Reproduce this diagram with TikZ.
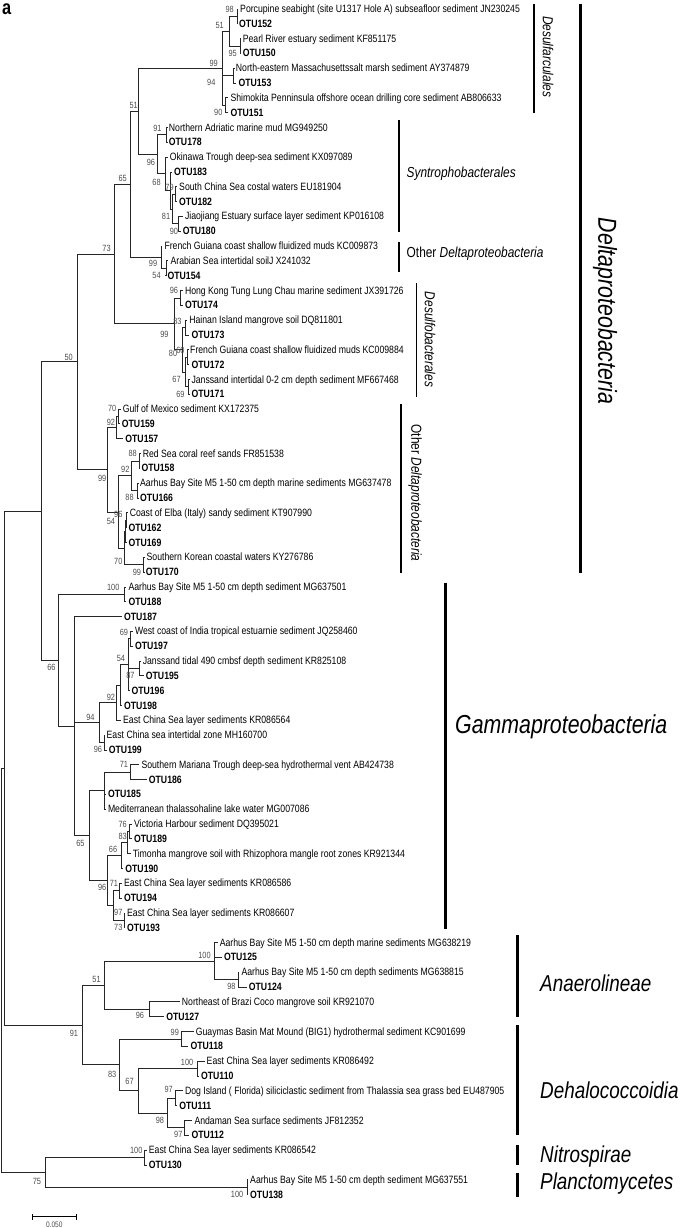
\documentclass[tikz,border=0pt]{standalone}
\usepackage{fontspec}
\setmainfont{Liberation Sans}[FakeStretch=0.82]
\newcommand\nd[3]{\coordinate (#1) at (#2,{8.9+14.82*(#3)});}
\newcommand\lf[4]{\node[leaf] (#1) at ({#2-2},{8.9+14.82*(#3)}) {#4};}
\newcommand\lo[4]{\node[leaf,otu] (#1) at ({#2-2},{8.9+14.82*(#3)}) {#4};}
\newcommand\br[2]{\draw[brl] (#1) |- (#2);}
\newcommand\bl[2]{\draw[brl] (#1) |- (#2.west);}
\newcommand\bsl[4]{\node[bs] (#1) at (#2,#3) {#4};}
\begin{document}
\begin{tikzpicture}[x=1pt,y=-1pt,
  brl/.style={line width=0.75pt,draw=black!85},
  leaf/.style={anchor=west,inner xsep=2pt,inner ysep=0pt,text height=0.72em,text depth=0pt,font=\fontsize{10.6}{12}\selectfont},
  otu/.style={font=\fontsize{10.6}{12}\selectfont\bfseries},
  bs/.style={anchor=east,inner sep=0pt,text height=0.72em,text depth=0pt,font=\fontsize{9}{10}\selectfont,text=black!70},
  bar/.style={line width=1.2pt},
  tbar/.style={line width=3pt},
  clade/.style={font=\fontsize{14.5}{16}\selectfont,inner sep=0pt},
  big/.style={font=\fontsize{26}{28}\selectfont\itshape,inner sep=0pt},
  mid/.style={font=\fontsize{23}{25}\selectfont\itshape,inner sep=0pt}]
\useasboundingbox (0,0) rectangle (685,1228);

\node[font=\fontsize{20}{20}\selectfont\bfseries,anchor=north west,inner sep=0pt] (pa) at (2,4) {a};

% leaves
\lf{L0}{240}{0}{Porcupine seabight (site U1317 Hole A) subseafloor sediment JN230245}
\lo{L1}{239}{1}{OTU152}
\lf{L2}{242.6}{2}{Pearl River estuary sediment KF851175}
\lo{L3}{242.6}{3}{OTU150}
\lf{L4}{235.7}{4}{North-eastern Massachusettssalt marsh sediment AY374879}
\lo{L5}{238.3}{5}{OTU153}
\lf{L6}{230.4}{6}{Shimokita Penninsula offshore ocean drilling core sediment AB806633}
\lo{L7}{230.4}{7}{OTU151}
\lf{L8}{168.7}{8}{Northern Adriatic marine mud MG949250}
\lo{L9}{168.7}{9}{OTU178}
\lf{L10}{169.6}{10}{Okinawa Trough deep-sea sediment KX097089}
\lo{L11}{174}{11}{OTU183}
\lf{L12}{179}{12}{South China Sea costal waters EU181904}
\lo{L13}{179}{13}{OTU182}
\lf{L14}{184.8}{14}{Jiaojiang Estuary surface layer sediment KP016108}
\lo{L15}{182.6}{15}{OTU180}
\lf{L16}{164.3}{16}{French Guiana coast shallow fluidized muds KC009873}
\lf{L17}{170.4}{17}{Arabian Sea intertidal soilJ X241032}
\lo{L18}{167.4}{18}{OTU154}
\lf{L19}{184.8}{19}{Hong Kong Tung Lung Chau marine sediment JX391726}
\lo{L20}{184.8}{20}{OTU174}
\lf{L21}{189.1}{21}{Hainan Island mangrove soil DQ811801}
\lo{L22}{191.3}{22}{OTU173}
\lf{L23}{190}{23}{French Guiana coast shallow fluidized muds KC009884}
\lo{L24}{191.3}{24}{OTU172}
\lf{L25}{191.3}{25}{Janssand intertidal 0-2 cm depth sediment MF667468}
\lo{L26}{191.3}{26}{OTU171}
\lf{L27}{122.6}{27}{Gulf of Mexico sediment KX172375}
\lo{L28}{121.7}{28}{OTU159}
\lo{L29}{125.2}{29}{OTU157}
\lf{L30}{142.6}{30}{Red Sea coral reef sands FR851538}
\lo{L31}{141.3}{31}{OTU158}
\lf{L32}{140}{32}{Aarhus Bay Site M5 1-50 cm depth marine sediments MG637478}
\lo{L33}{140}{33}{OTU166}
\lf{L34}{129.6}{34}{Coast of Elba (Italy) sandy sediment KT907990}
\lo{L35}{128.3}{35}{OTU162}
\lo{L36}{128.3}{36}{OTU169}
\lf{L37}{146.5}{37}{Southern Korean coastal waters KY276786}
\lo{L38}{145.7}{38}{OTU170}
\lf{L39}{128.3}{39}{Aarhus Bay Site M5 1-50 cm depth sediment MG637501}
\lo{L40}{128.3}{40}{OTU188}
\lo{L41}{123.9}{41}{OTU187}
\lf{L42}{134.8}{42}{West coast of India tropical estuarnie sediment JQ258460}
\lo{L43}{134.8}{43}{OTU197}
\lf{L44}{142.6}{44}{Janssand tidal 490 cmbsf depth sediment KR825108}
\lo{L45}{145.7}{45}{OTU195}
\lo{L46}{131.3}{46}{OTU196}
\lo{L47}{123.9}{47}{OTU198}
\lf{L48}{123}{48}{East China Sea layer sediments KR086564}
\lf{L49}{106.5}{49}{East China sea intertidal zone MH160700}
\lo{L50}{108.7}{50}{OTU199}
\lf{L51}{141.3}{51}{Southern Mariana Trough deep-sea hydrothermal vent AB424738}
\lo{L52}{148.7}{52}{OTU186}
\lo{L53}{107.8}{53}{OTU185}
\lf{L54}{107.8}{54}{Mediterranean thalassohaline lake water MG007086}
\lf{L55}{133.9}{55}{Victoria Harbour sediment DQ395021}
\lo{L56}{133.9}{56}{OTU189}
\lf{L57}{132.6}{57}{Timonha mangrove soil with Rhizophora mangle root zones KR921344}
\lo{L58}{125.2}{58}{OTU190}
\lf{L59}{123.9}{59}{East China Sea layer sediments KR086586}
\lo{L60}{123.9}{60}{OTU194}
\lf{L61}{127}{61}{East China Sea layer sediments KR086607}
\lo{L62}{127}{62}{OTU193}
\lf{L63}{219.6}{63}{Aarhus Bay Site M5 1-50 cm depth marine sediments MG638219}
\lo{L64}{223.9}{64}{OTU125}
\lf{L65}{241.3}{65}{Aarhus Bay Site M5 1-50 cm depth sediments MG638815}
\lo{L66}{248.7}{66}{OTU124}
\lf{L67}{181.7}{67}{Northeast of Brazi Coco mangrove soil KR921070}
\lo{L68}{166.1}{68}{OTU127}
\lf{L69}{195.7}{69}{Guaymas Basin Mat Mound (BIG1) hydrothermal sediment KC901699}
\lo{L70}{190.4}{70}{OTU118}
\lf{L71}{206.5}{71}{East China Sea layer sediments KR086492}
\lo{L72}{200.9}{72}{OTU110}
\lf{L73}{184.8}{73}{Dog Island ( Florida) siliciclastic sediment from Thalassia sea grass bed EU487905}
\lo{L74}{179.1}{74}{OTU111}
\lf{L75}{194.3}{75}{Andaman Sea surface sediments JF812352}
\lo{L76}{191.3}{76}{OTU112}
\lf{L77}{148.7}{77}{East China Sea layer sediments KR086542}
\lo{L78}{148.7}{78}{OTU130}
\lf{L79}{250}{79}{Aarhus Bay Site M5 1-50 cm depth sediment MG637551}
\lo{L80}{250}{80}{OTU138}

% internal nodes
\nd{A1}{237}{0.5}
\nd{A2}{240}{2.5}
\nd{N51a}{229}{1.5}
\nd{N94}{233.5}{4.5}
\nd{N90}{225.5}{6.5}
\nd{N99}{222.6}{4}
\nd{N51}{138.3}{6.906}
\nd{N91s}{166.5}{8.5}
\nd{N79s}{175}{12.5}
\nd{N90s}{178}{14.5}
\nd{NYs}{172.5}{13.5}
\nd{NXs}{170.4}{12.25}
\nd{N68s}{165.2}{11.125}
\nd{N96s}{157.4}{9.8125}
\nd{N54o}{166}{17.5}
\nd{N99o}{160.9}{16.75}
\nd{N65}{130.4}{11.828}
\nd{N96d}{180.4}{19.5}
\nd{N83d}{185.5}{21.5}
\nd{N60d}{187.5}{23.5}
\nd{N69d}{188.5}{25.5}
\nd{NYd}{185}{24.5}
\nd{NXd}{182.6}{23}
\nd{NDb}{173.9}{21.25}
\nd{N73}{113.9}{16.539}
\nd{N70b}{118.8}{27.5}
\nd{N92b}{116.5}{28.25}
\nd{N88a}{139.5}{30.5}
\nd{N88b}{137.5}{32.5}
\nd{N92c}{131.7}{31.5}
\nd{NC}{126.8}{34.5}
\nd{NXc}{125.5}{35.25}
\nd{N99k}{143.5}{37.5}
\nd{NB}{124.5}{36.375}
\nd{NA}{118.3}{33.94}
\nd{N99b}{107.8}{31.09}
\nd{N50}{77.4}{23.81}
\nd{N100g}{124.5}{39.5}
\nd{N69g}{130}{42.5}
\nd{N87g}{139.1}{44.5}
\nd{N54g}{128.7}{44.25}
\nd{NXg}{120.4}{45.625}
\nd{N92g}{116.5}{46.81}
\nd{N96g}{104.3}{49.5}
\nd{N94g}{99.1}{48.16}
\nd{N71h}{130.4}{51.5}
\nd{NH}{104.3}{52.75}
\nd{N76h}{129.8}{55.5}
\nd{N83h}{127}{56.25}
\nd{N66h}{120.9}{57.125}
\nd{N71j}{119.6}{59.5}
\nd{N73j}{123.9}{61.5}
\nd{NJ}{113}{60.5}
\nd{N96h}{107.8}{58.81}
\nd{N65g}{89.1}{55.78}
\nd{G2}{74.8}{48.39}
\nd{NG}{58.7}{43.95}
\nd{N66d}{41.3}{33.88}
\nd{N98c}{238.3}{65.5}
\nd{N100c}{214.3}{64.25}
\nd{N96c}{149.1}{67.5}
\nd{N51c}{104.3}{65.875}
\nd{N99c}{181.7}{69.5}
\nd{N100e}{197}{71.5}
\nd{N97c}{175.2}{73.5}
\nd{N97e}{184.8}{75.5}
\nd{N98e}{167.4}{74.5}
\nd{N67c}{138.3}{73}
\nd{N83c}{119.6}{71.25}
\nd{N91}{82.6}{68.56}
\nd{RI}{4.3}{51.22}
\nd{N100n}{144.8}{77.5}
\nd{N100p}{247}{79.5}
\nd{N75}{45.7}{78.5}
\nd{RO}{1.3}{64.86}

% branches
\bl{A1}{L0} \bl{A1}{L1} \bl{A2}{L2} \bl{A2}{L3}
\br{N51a}{A1} \br{N51a}{A2}
\bl{N94}{L4} \bl{N94}{L5}
\bl{N90}{L6} \bl{N90}{L7}
\br{N99}{N51a} \br{N99}{N94} \br{N99}{N90}
\br{N51}{N99} \br{N51}{N96s}
\bl{N91s}{L8} \bl{N91s}{L9}
\br{N96s}{N91s} \br{N96s}{N68s}
\bl{N68s}{L10} \br{N68s}{NXs}
\bl{NXs}{L11} \br{NXs}{NYs}
\br{NYs}{N79s} \br{NYs}{N90s}
\bl{N79s}{L12} \bl{N79s}{L13}
\bl{N90s}{L14} \bl{N90s}{L15}
\bl{N99o}{L16} \br{N99o}{N54o}
\bl{N54o}{L17} \bl{N54o}{L18}
\br{N65}{N51} \br{N65}{N99o}
\bl{N96d}{L19} \bl{N96d}{L20}
\bl{N83d}{L21} \bl{N83d}{L22}
\bl{N60d}{L23} \bl{N60d}{L24}
\bl{N69d}{L25} \bl{N69d}{L26}
\br{NYd}{N60d} \br{NYd}{N69d}
\br{NXd}{N83d} \br{NXd}{NYd}
\br{NDb}{N96d} \br{NDb}{NXd}
\br{N73}{N65} \br{N73}{NDb}
\bl{N70b}{L27} \bl{N70b}{L28}
\br{N92b}{N70b} \bl{N92b}{L29}
\bl{N88a}{L30} \bl{N88a}{L31}
\bl{N88b}{L32} \bl{N88b}{L33}
\br{N92c}{N88a} \br{N92c}{N88b}
\bl{NC}{L34} \bl{NC}{L35}
\br{NXc}{NC} \bl{NXc}{L36}
\bl{N99k}{L37} \bl{N99k}{L38}
\br{NB}{NXc} \br{NB}{N99k}
\br{NA}{N92c} \br{NA}{NB}
\br{N99b}{N92b} \br{N99b}{NA}
\br{N50}{N73} \br{N50}{N99b}
\bl{N100g}{L39} \bl{N100g}{L40}
\bl{N69g}{L42} \bl{N69g}{L43}
\bl{N87g}{L44} \bl{N87g}{L45}
\br{N54g}{N69g} \br{N54g}{N87g} \bl{N54g}{L46}
\br{NXg}{N54g} \bl{NXg}{L47}
\br{N92g}{NXg} \bl{N92g}{L48}
\bl{N96g}{L49} \bl{N96g}{L50}
\br{N94g}{N92g} \br{N94g}{N96g}
\bl{N71h}{L51} \bl{N71h}{L52}
\br{NH}{N71h} \bl{NH}{L53} \bl{NH}{L54}
\bl{N76h}{L55} \bl{N76h}{L56}
\br{N83h}{N76h} \bl{N83h}{L57}
\br{N66h}{N83h} \bl{N66h}{L58}
\bl{N71j}{L59} \bl{N71j}{L60}
\bl{N73j}{L61} \bl{N73j}{L62}
\br{NJ}{N71j} \br{NJ}{N73j}
\br{N96h}{N66h} \br{N96h}{NJ}
\br{N65g}{NH} \br{N65g}{N96h}
\bl{G2}{L41} \br{G2}{N94g} \br{G2}{N65g}
\br{NG}{N100g} \br{NG}{G2}
\br{N66d}{N50} \br{N66d}{NG}
\bl{N98c}{L65} \bl{N98c}{L66}
\bl{N100c}{L63} \bl{N100c}{L64} \br{N100c}{N98c}
\bl{N96c}{L67} \bl{N96c}{L68}
\br{N51c}{N100c} \br{N51c}{N96c}
\bl{N99c}{L69} \bl{N99c}{L70}
\bl{N100e}{L71} \bl{N100e}{L72}
\bl{N97c}{L73} \bl{N97c}{L74}
\bl{N97e}{L75} \bl{N97e}{L76}
\br{N98e}{N97c} \br{N98e}{N97e}
\br{N67c}{N100e} \br{N67c}{N98e}
\br{N83c}{N99c} \br{N83c}{N67c}
\br{N91}{N51c} \br{N91}{N83c}
\br{RI}{N66d} \br{RI}{N91}
\bl{N100n}{L77} \bl{N100n}{L78}
\bl{N100p}{L79} \bl{N100p}{L80}
\br{N75}{N100n} \br{N75}{N100p}
\br{RO}{RI} \br{RO}{N75}

% bootstrap values
\bsl{b1}{234}{9}{98}
\bsl{b2}{224}{25}{51}
\bsl{b3}{237}{52.7}{95}
\bsl{b4}{218}{63}{99}
\bsl{b5}{215.6}{82.3}{94}
\bsl{b6}{222.6}{112.3}{90}
\bsl{b7}{138}{105}{51}
\bsl{b8}{161.7}{128.3}{91}
\bsl{b9}{155.2}{161.7}{96}
\bsl{b10}{160.9}{181.7}{68}
\bsl{b11}{173.9}{187.3}{79}
\bsl{b12}{170.4}{215.7}{81}
\bsl{b13}{178.3}{230.7}{90}
\bsl{b14}{127}{178.3}{65}
\bsl{b15}{157.4}{263.3}{99}
\bsl{b16}{160.9}{275}{54}
\bsl{b17}{110.9}{247.7}{73}
\bsl{b18}{178.3}{290}{96}
\bsl{b19}{181.7}{321}{83}
\bsl{b20}{168.7}{334.3}{99}
\bsl{b21}{184.8}{350}{60}
\bsl{b22}{177.4}{353.3}{80}
\bsl{b23}{180.9}{379}{67}
\bsl{b24}{184.8}{394}{69}
\bsl{b25}{73}{356.7}{50}
\bsl{b26}{116.5}{408.3}{70}
\bsl{b27}{115.2}{421.7}{92}
\bsl{b28}{137}{452.7}{88}
\bsl{b29}{129.6}{469}{92}
\bsl{b30}{106.5}{478.3}{99}
\bsl{b31}{133.9}{497.3}{88}
\bsl{b32}{122.6}{514}{96}
\bsl{b33}{115.2}{520.7}{54}
\bsl{b34}{122.6}{560.7}{70}
\bsl{b35}{141.3}{571.7}{99}
\bsl{b36}{119.6}{587.3}{100}
\bsl{b37}{55.7}{666.7}{66}
\bsl{b38}{128.3}{632.3}{69}
\bsl{b39}{125.2}{658.3}{54}
\bsl{b40}{134.8}{675}{87}
\bsl{b41}{115.2}{696.7}{92}
\bsl{b42}{94.8}{716.7}{94}
\bsl{b43}{102.2}{749}{96}
\bsl{b44}{128.3}{764.3}{71}
\bsl{b45}{127}{824.3}{76}
\bsl{b46}{127}{836}{83}
\bsl{b47}{117.4}{849.3}{66}
\bsl{b48}{84.8}{842.7}{65}
\bsl{b49}{106.5}{887.3}{96}
\bsl{b50}{118.3}{883.3}{71}
\bsl{b51}{122.6}{912.3}{97}
\bsl{b52}{122.6}{926.7}{73}
\bsl{b53}{210.9}{955}{100}
\bsl{b54}{100.9}{979}{51}
\bsl{b55}{235.7}{986}{98}
\bsl{b56}{144.3}{1015}{96}
\bsl{b57}{78.3}{1033.3}{91}
\bsl{b58}{179.1}{1031.7}{99}
\bsl{b59}{193.5}{1061.7}{100}
\bsl{b60}{116.5}{1074}{83}
\bsl{b61}{133.9}{1081}{67}
\bsl{b62}{173}{1089.3}{97}
\bsl{b63}{164.3}{1120}{98}
\bsl{b64}{182.6}{1134.3}{97}
\bsl{b65}{142.6}{1150}{100}
\bsl{b66}{41.3}{1181}{75}
\bsl{b67}{243.5}{1194.3}{100}

% clade bars and labels
\draw[bar] (534,4) -- (534,112.7);
\node[clade,rotate=-90] (tDsa) at (548,56.7) {\itshape Desulfarculales};
\draw[tbar] (580.4,4) -- (580.4,573.3);
\node[big,rotate=-90] (tDelta) at (605,311) {Deltaproteobacteria};
\draw[bar] (399,120) -- (399,232.3);
\node[clade,anchor=west] (tSyn) at (406.5,174) {\itshape Syntrophobacterales};
\draw[bar] (399,241.7) -- (399,271.7);
\node[clade,anchor=west] (tOD1) at (406.5,253.3) {Other \textit{Deltaproteobacteria}};
\draw[bar] (416.5,283.3) -- (416.5,396.7);
\node[clade,rotate=-90] (tDsb) at (430,339.5) {\itshape Desulfobacterales};
\draw[bar] (400.9,404) -- (400.9,573.3);
\node[clade,rotate=-90] (tOD2) at (415,493) {Other \textit{Deltaproteobacteria}};
\draw[tbar] (445.7,582.7) -- (445.7,929.3);
\node[big,anchor=west] (tGamma) at (455,726.7) {Gammaproteobacteria};
\draw[tbar] (517,935) -- (517,1016.7);
\node[mid,anchor=west] (tAna) at (540,983.3) {Anaerolineae};
\draw[tbar] (517,1025) -- (517,1135);
\node[mid,anchor=west] (tDeh) at (540,1090) {Dehalococcoidia};
\draw[tbar] (517,1145) -- (517,1165);
\node[mid,anchor=west] (tNit) at (540,1157) {Nitrospirae};
\draw[tbar] (517,1172.7) -- (517,1196.7);
\node[mid,anchor=west] (tPla) at (540,1184) {Planctomycetes};

% scale bar
\coordinate (s1) at (32.6,1216.7);
\coordinate (s2) at (76.1,1216.7);
\draw[line width=0.8pt] (s1) -- (s2);
\draw[line width=0.8pt] ([yshift=-3pt]s1) -- ([yshift=3pt]s1);
\draw[line width=0.8pt] ([yshift=-3pt]s2) -- ([yshift=3pt]s2);
\node[font=\fontsize{8}{8}\selectfont,text=black!70,inner sep=0pt] (sc) at (54.3,1224.5) {0.050};
\end{tikzpicture}
\end{document}
